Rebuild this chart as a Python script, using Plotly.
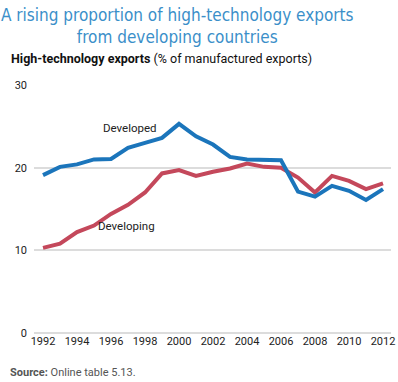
import plotly.graph_objects as go

years = list(range(1992, 2013))
developed = [19.1, 20.1, 20.4, 21.0, 21.05, 22.4, 23.0, 23.6, 25.3, 23.8, 22.8,
             21.3, 21.0, 20.9, 20.9, 17.1, 16.5, 17.8, 17.2, 16.1, 17.4]
developing = [10.3, 10.8, 12.2, 13.0, 14.4, 15.5, 17.0, 19.3, 19.7, 19.0, 19.5,
              19.9, 20.5, 20.1, 20.0, 18.8, 17.0, 19.0, 18.4, 17.4, 18.1]
x_ticks = list(range(1992, 2013, 2))
y_ticks = [0, 10, 20, 30]

BLUE = "#1b75bb"
RED = "#c4485b"
FONT = "Roboto, Arial, sans-serif"
TITLE_FONT = "DejaVu Sans Condensed, Roboto, sans-serif"

fig = go.Figure()
fig.add_trace(go.Scatter(x=years, y=developing, mode="lines", name="Developing",
                         line=dict(color=RED, width=4)))
fig.add_trace(go.Scatter(x=years, y=developed, mode="lines", name="Developed",
                         line=dict(color=BLUE, width=4)))

ann = [
    dict(x=1997.1, y=24.8, text="Developed", showarrow=False,
         font=dict(size=11.5, color="#222", family=FONT)),
    dict(x=1996.9, y=12.9, text="Developing", showarrow=False,
         font=dict(size=11.5, color="#222", family=FONT)),
    dict(xref="paper", yref="paper", x=0.403, xanchor="center",
         y=1.236, yanchor="middle", showarrow=False,
         text="A rising proportion of high-technology exports<br>from developing countries",
         font=dict(size=17, color="#3b8fc9", family=TITLE_FONT), align="center"),
    dict(xref="paper", yref="paper", x=-0.070, xanchor="left", y=1.107,
         yanchor="middle", showarrow=False, align="left",
         text="<b>High-technology exports</b> (% of manufactured exports)",
         font=dict(size=12.5, color="#111", family=FONT)),
    dict(xref="paper", yref="paper", x=-0.072, xanchor="left", y=-0.161,
         yanchor="middle", showarrow=False, align="left",
         text="<b>Source:</b> Online table 5.13.",
         font=dict(size=11, color="#555", family=FONT)),
]

fig.update_layout(
    width=398, height=382,
    margin=dict(l=34, r=7, t=85, b=49, autoexpand=False),
    paper_bgcolor="white", plot_bgcolor="white",
    showlegend=False,
    font=dict(family=FONT, color="#222", size=12),
    annotations=ann,
    xaxis=dict(range=[1991.47, 2012.47], tickvals=x_ticks, showgrid=False,
               zeroline=False, showline=False, ticks="", automargin=False,
               tickfont=dict(size=11, color="#222", family=FONT)),
    yaxis=dict(range=[0, 30], tickvals=y_ticks, showgrid=True, gridcolor="#dcdcdc",
               gridwidth=1.5, zeroline=True, zerolinecolor="#dcdcdc", zerolinewidth=1.5,
               showline=False, ticks="", ticklabelstandoff=6, automargin=False,
               tickfont=dict(size=11, color="#222", family=FONT)),
)

fig.write_html("out.html", config={"displayModeBar": False},
               post_script="document.body.style.margin='0';document.body.style.overflow='hidden';")
